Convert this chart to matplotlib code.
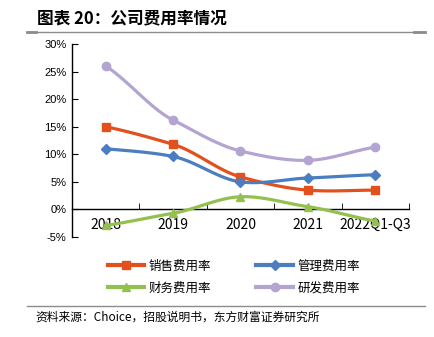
import numpy as np
import matplotlib
matplotlib.use("Agg")
import matplotlib.pyplot as plt
from matplotlib.lines import Line2D

plt.rcParams['font.family'] = ['Noto Sans CJK SC', 'DejaVu Sans']

categories = ["2018", "2019", "2020", "2021", "2022Q1-Q3"]
sales_rate = [15.0, 11.8, 5.9, 3.5, 3.5]
admin_rate = [11.0, 9.6, 5.0, 5.7, 6.3]
finance_rate = [-2.9, -0.7, 2.3, 0.5, -2.1]
rnd_rate = [26.0, 16.2, 10.6, 8.9, 11.3]
series_names = ["销售费用率", "管理费用率", "财务费用率", "研发费用率"]
y_ticks = [-5, 0, 5, 10, 15, 20, 25, 30]

colors = ["#E2501E", "#4A7EC0", "#93C04E", "#B3A4D2"]
markers = ["s", "D", "^", "o"]
msizes = [6, 5, 6, 6]


def smooth(xs, ys, n=30, k=0.8):
    """Cardinal (Hermite) spline through the points; k scales the tangents."""
    xs = np.asarray(xs, float)
    ys = np.asarray(ys, float)
    m = np.zeros_like(ys)
    m[1:-1] = (ys[2:] - ys[:-2]) / (xs[2:] - xs[:-2])
    m[0] = (ys[1] - ys[0]) / (xs[1] - xs[0])
    m[-1] = (ys[-1] - ys[-2]) / (xs[-1] - xs[-2])
    m *= k
    ox, oy = [], []
    for i in range(len(xs) - 1):
        h = xs[i + 1] - xs[i]
        t = np.linspace(0, 1, n, endpoint=(i == len(xs) - 2))
        h00 = 2 * t ** 3 - 3 * t ** 2 + 1
        h10 = t ** 3 - 2 * t ** 2 + t
        h01 = -2 * t ** 3 + 3 * t ** 2
        h11 = t ** 3 - t ** 2
        oy.append(h00 * ys[i] + h10 * h * m[i] + h01 * ys[i + 1] + h11 * h * m[i + 1])
        ox.append(xs[i] + t * h)
    return np.concatenate(ox), np.concatenate(oy)


fig = plt.figure(figsize=(4.35, 3.37), dpi=100)
ax = fig.add_axes([72 / 435, 1 - 237 / 337, (409 - 72) / 435, (237 - 44) / 337])

x = np.arange(len(categories))
all_series = [sales_rate, admin_rate, finance_rate, rnd_rate]
for vals, c, m, ms in zip(all_series, colors, markers, msizes):
    sx, sy = smooth(x, vals)
    ax.plot(sx, sy, color=c, lw=2.3, solid_capstyle='round', zorder=3)
    ax.plot(x, vals, ls='none', marker=m, ms=ms, color=c, mec=c, zorder=4)

ax.set_xlim(-0.5, len(categories) - 0.5)
ax.set_ylim(-5, 30)
ax.set_yticks(y_ticks)
ax.set_yticklabels([f"{v}%" for v in y_ticks], family=['Liberation Sans'], fontsize=8)
ax.set_xticks(x)
ax.set_xticklabels(categories, family=['Liberation Sans'], fontsize=8)
ax.set_xticks(np.arange(-0.5, len(categories)), minor=True)
ax.tick_params(axis='x', which='major', length=0, pad=6)
ax.tick_params(axis='x', which='minor', length=4, direction='in', color='black')
ax.tick_params(axis='y', length=4, direction='in', pad=4)

for side in ['top', 'right']:
    ax.spines[side].set_visible(False)
ax.spines['bottom'].set_position(('data', 0))
ax.spines['left'].set_linewidth(1.0)
ax.spines['bottom'].set_linewidth(1.0)

# legend: rows are (sales, admin) and (finance, rnd); matplotlib fills by column
handles = [Line2D([0], [0], color=c, lw=3, marker=m, ms=ms, mec=c)
           for c, m, ms in zip(colors, markers, msizes)]
order = [0, 2, 1, 3]
fig.legend([handles[i] for i in order], [series_names[i] for i in order],
           ncol=2, loc='center',
           bbox_to_anchor=(234 / 435, 1 - 277 / 337), frameon=False,
           fontsize=9, handlelength=2.9, columnspacing=3.6, labelspacing=0.7,
           handletextpad=0.4)

# title and rules
fig.text(37 / 435, 1 - 18 / 337, "图表 20：公司费用率情况", fontsize=12,
         fontweight='bold', va='center', ha='left')
fig.add_artist(Line2D([27 / 435, 425 / 435], [1 - 31.5 / 337, 1 - 31.5 / 337],
                      color='#8C8C8C', lw=1.0, transform=fig.transFigure))
fig.add_artist(Line2D([27 / 435, 36 / 435], [1 - 32 / 337, 1 - 32 / 337],
                      color='#8C8C8C', lw=2.0, transform=fig.transFigure))
fig.add_artist(Line2D([414 / 435, 425 / 435], [1 - 32 / 337, 1 - 32 / 337],
                      color='#8C8C8C', lw=2.0, transform=fig.transFigure))
fig.add_artist(Line2D([27 / 435, 425 / 435], [1 - 306 / 337, 1 - 306 / 337],
                      color='#8C8C8C', lw=1.0, transform=fig.transFigure))
fig.text(35 / 435, 1 - 317 / 337, "资料来源：Choice，招股说明书，东方财富证券研究所",
         fontsize=8.5, va='center', ha='left')

fig.savefig("out.png", dpi=100)
